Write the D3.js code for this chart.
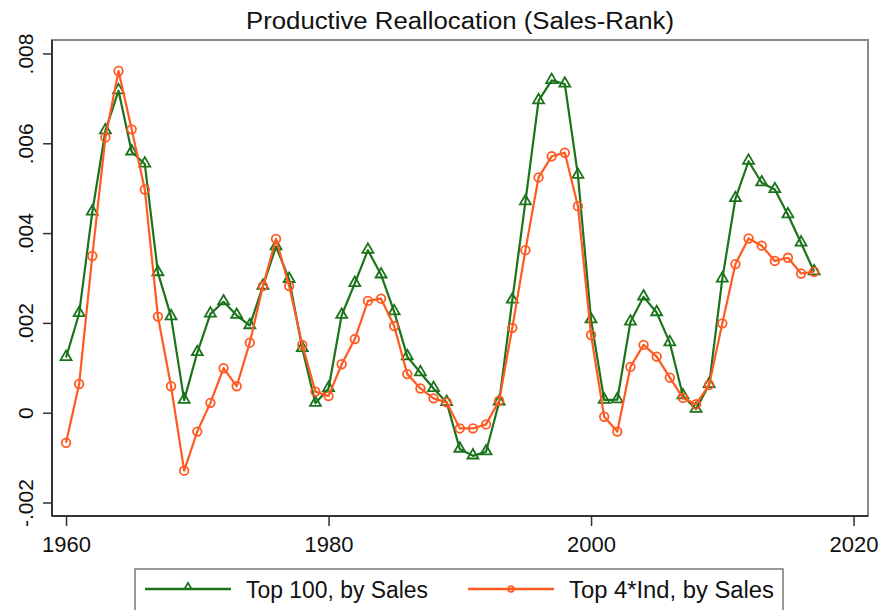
<!DOCTYPE html>
<html>
<head>
<meta charset="utf-8">
<script src="https://cdn.jsdelivr.net/npm/d3@7"></script>
<style>
  html, body { margin: 0; padding: 0; background: #fff; }
  svg { display: block; font-family: "Liberation Sans", Arial, sans-serif; }
</style>
</head>
<body>
<svg id="chart" width="881" height="610"></svg>
<script>
const years = d3.range(1960, 2018);
const top100 = [
  0.00123, 0.00221, 0.00447, 0.00628, 0.00717, 0.00581, 0.00554, 0.00312, 0.00214, 0.00028,
  0.00134, 0.00220, 0.00247, 0.00217, 0.00194, 0.00282, 0.00370, 0.00297, 0.00143, 0.00021,
  0.00054, 0.00217, 0.00288, 0.00362, 0.00307, 0.00225, 0.00125, 0.00089, 0.00054, 0.00023,
  -0.00081, -0.00096, -0.00087, 0.00024, 0.00251, 0.00470, 0.00695, 0.00740, 0.00732, 0.00529,
  0.00207, 0.00028, 0.00029, 0.00202, 0.00258, 0.00223, 0.00156, 0.00038, 0.00008, 0.00063,
  0.00298, 0.00477, 0.00560, 0.00512, 0.00497, 0.00441, 0.00378, 0.00314
];
const top4ind = [
  -0.00067, 0.00064, 0.00349, 0.00613, 0.00761, 0.00631, 0.00497, 0.00214, 0.00059, -0.00129,
  -0.00042, 0.00022, 0.00099, 0.00059, 0.00156, 0.00282, 0.00387, 0.00282, 0.00151, 0.00047,
  0.00037, 0.00108, 0.00164, 0.00249, 0.00254, 0.00193, 0.00086, 0.00054, 0.00032, 0.00023,
  -0.00035, -0.00035, -0.00026, 0.00027, 0.00189, 0.00362, 0.00524, 0.00571, 0.00579, 0.00460,
  0.00173, -0.00009, -0.00042, 0.00102, 0.00151, 0.00125, 0.00078, 0.00033, 0.00019, 0.00062,
  0.00199, 0.00331, 0.00388, 0.00372, 0.00338, 0.00345, 0.00310, 0.00314
];
const xTicks = [1960, 1980, 2000, 2020];
const yTicks = [-0.002, 0, 0.002, 0.004, 0.006, 0.008];
const yTickLabels = ["-.002", "0", ".002", ".004", ".006", ".008"];
const seriesNames = ["Top 100, by Sales", "Top 4*Ind, by Sales"];
const title = "Productive Reallocation (Sales-Rank)";

const GREEN = "#1b731b";
const ORANGE = "#ff5a22";

const svg = d3.select("#chart");
const plot = { left: 52, right: 868, top: 40, bottom: 516 };

const x = d3.scaleLinear().domain([1958.93, 2021.1]).range([plot.left, plot.right]);
const y = d3.scaleLinear().domain([-0.0023, 0.0083]).range([plot.bottom, plot.top]);

svg.append("rect").attr("width", 881).attr("height", 610).attr("fill", "#fff");

// title
svg.append("text")
  .attr("x", (plot.left + plot.right) / 2).attr("y", 29)
  .attr("text-anchor", "middle")
  .attr("font-size", 23)
  .attr("textLength", 428).attr("lengthAdjust", "spacingAndGlyphs")
  .attr("fill", "#111")
  .text(title);

// frame (top/right gray)
svg.append("rect")
  .attr("x", plot.left).attr("y", plot.top)
  .attr("width", plot.right - plot.left).attr("height", plot.bottom - plot.top)
  .attr("fill", "none").attr("stroke", "#8a8a8a").attr("stroke-width", 2);

// axes
const yAxis = d3.axisLeft(y).tickValues(yTicks).tickSize(9).tickFormat((d, i) => yTickLabels[i]);
const gy = svg.append("g").attr("transform", `translate(${plot.left},0)`).call(yAxis);
gy.select(".domain").attr("stroke", "#333").attr("stroke-width", 2).attr("d", `M0,${plot.top}V${plot.bottom}`);
gy.selectAll(".tick line").attr("stroke", "#333").attr("stroke-width", 1.5);
gy.selectAll(".tick text")
  .attr("font-size", 21).attr("fill", "#111")
  .attr("font-family", "Liberation Sans, Arial, sans-serif")
  .attr("x", null).attr("dy", null)
  .attr("text-anchor", "middle")
  .attr("transform", "translate(-19,0) rotate(-90)");

const xAxis = d3.axisBottom(x).tickValues(xTicks).tickSize(10).tickFormat(d3.format("d"));
const gx = svg.append("g").attr("transform", `translate(0,${plot.bottom})`).call(xAxis);
gx.select(".domain").attr("stroke", "#333").attr("stroke-width", 2).attr("d", `M${plot.left},0H${plot.right}`);
gx.selectAll(".tick line").attr("stroke", "#333").attr("stroke-width", 1.5);
gx.selectAll(".tick text")
  .attr("font-size", 22).attr("fill", "#111")
  .attr("font-family", "Liberation Sans, Arial, sans-serif")
  .attr("y", 36).attr("dy", null);

// lines
const line = d3.line().x((d, i) => x(years[i])).y(d => y(d));
const triangle = d3.symbol().type(d3.symbolTriangle).size(52);

function drawSeries(values, color, marker) {
  svg.append("path").datum(values)
    .attr("d", line).attr("fill", "none")
    .attr("stroke", color).attr("stroke-width", 2.2).attr("stroke-linejoin", "round");
  const g = svg.append("g");
  if (marker === "tri") {
    g.selectAll("path").data(values).join("path")
      .attr("d", triangle)
      .attr("transform", (d, i) => `translate(${x(years[i])},${y(d) - 0.5})`)
      .attr("fill", "none").attr("stroke", color).attr("stroke-width", 1.8);
  } else {
    g.selectAll("circle").data(values).join("circle")
      .attr("cx", (d, i) => x(years[i])).attr("cy", d => y(d)).attr("r", 4.3)
      .attr("fill", "none").attr("stroke", color).attr("stroke-width", 1.8);
  }
}
drawSeries(top100, GREEN, "tri");
drawSeries(top4ind, ORANGE, "circ");

// legend
const lg = svg.append("g");
lg.append("rect").attr("x", 135).attr("y", 569).attr("width", 648).attr("height", 50)
  .attr("fill", "#fff").attr("stroke", "#777").attr("stroke-width", 1.5);
const items = [
  { name: seriesNames[0], color: GREEN, marker: "tri", x0: 145, w: 182 },
  { name: seriesNames[1], color: ORANGE, marker: "circ", x0: 468, w: 205 }
];
items.forEach(it => {
  lg.append("line").attr("x1", it.x0).attr("x2", it.x0 + 86).attr("y1", 589).attr("y2", 589)
    .attr("stroke", it.color).attr("stroke-width", 2.5);
  if (it.marker === "tri") {
    lg.append("path").attr("d", d3.symbol().type(d3.symbolTriangle).size(22)())
      .attr("transform", `translate(${it.x0 + 43},587)`)
      .attr("fill", "none").attr("stroke", it.color).attr("stroke-width", 1.8);
  } else {
    lg.append("circle").attr("cx", it.x0 + 43).attr("cy", 589).attr("r", 2.8)
      .attr("fill", "none").attr("stroke", it.color).attr("stroke-width", 1.8);
  }
  lg.append("text").attr("x", it.x0 + 101).attr("y", 598)
    .attr("font-size", 23).attr("fill", "#111")
    .attr("textLength", it.w).attr("lengthAdjust", "spacingAndGlyphs")
    .text(it.name);
});
</script>
</body>
</html>
